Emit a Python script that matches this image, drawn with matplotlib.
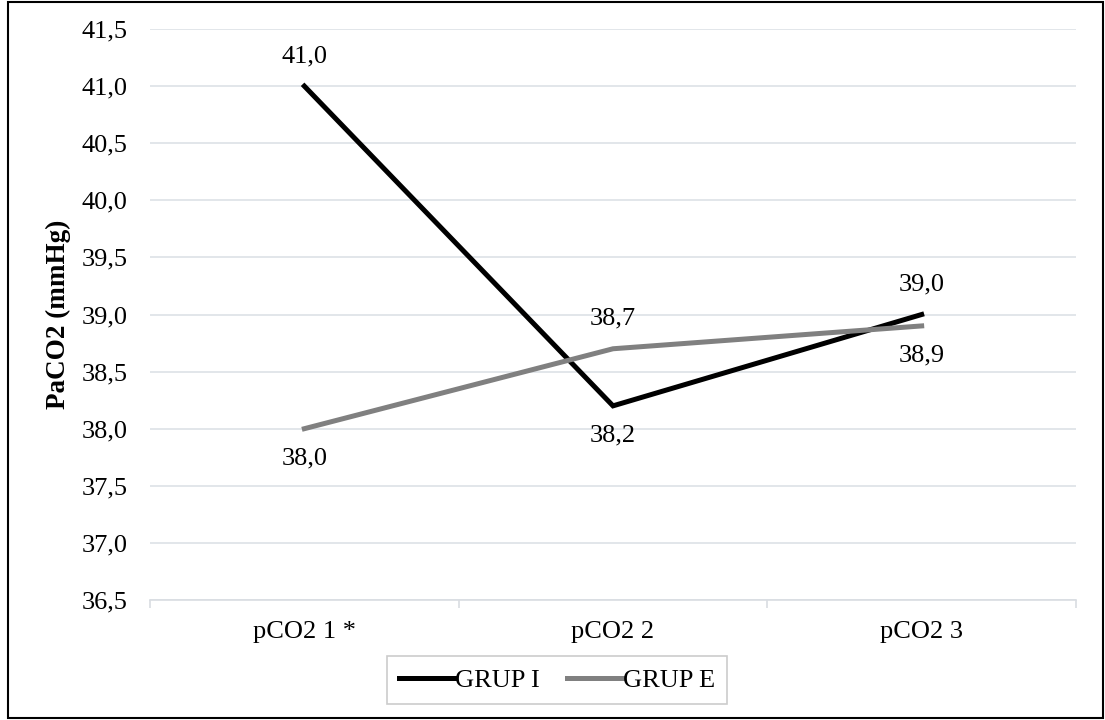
import numpy as np
import matplotlib
matplotlib.use("Agg")
import matplotlib.pyplot as plt
from matplotlib.ticker import FuncFormatter, FixedLocator
from matplotlib.patches import Rectangle

categories = ["pCO2 1 *", "pCO2 2", "pCO2 3"]
grup_i = [41.0, 38.2, 39.0]
grup_e = [38.0, 38.7, 38.9]
# label above (+1) or below (-1) the point
pos_i = [1, -1, 1]
pos_e = [-1, 1, -1]

plt.rcParams["font.family"] = ["Liberation Serif", "DejaVu Serif"]
plt.rcParams["font.size"] = 19

fig = plt.figure(figsize=(11.05, 7.2), dpi=100)
ax = fig.add_axes([150 / 1105, 120 / 720, 926 / 1105, 571 / 720])

x = np.arange(len(categories))
ax.plot(x, grup_i, color="black", lw=3.6, label="GRUP I", solid_joinstyle="miter", zorder=3)
ax.plot(x, grup_e, color="#808080", lw=3.6, label="GRUP E", solid_joinstyle="miter", zorder=3)

def comma(v):
    return f"{v:.1f}".replace(".", ",")

for vals, pos in [(grup_i, pos_i), (grup_e, pos_e)]:
    for xi, v, p in zip(x, vals, pos):
        ax.annotate(comma(v), (xi, v), xytext=(0, 21.5 * p), textcoords="offset points",
                    ha="center", va="center", fontsize=19)

ax.set_xlim(-0.5, 2.5)
ax.set_ylim(36.5, 41.5)
ax.set_yticks(np.arange(36.5, 41.51, 0.5))
ax.yaxis.set_major_formatter(FuncFormatter(lambda v, _: comma(v)))
ax.set_xticks(x)
ax.set_xticklabels(categories)
ax.xaxis.set_minor_locator(FixedLocator([-0.5, 0.5, 1.5, 2.5]))
ax.tick_params(axis="x", which="major", length=0, pad=15)
ax.tick_params(axis="x", which="minor", length=6, color="#d9dde2", width=1.2)
ax.tick_params(axis="y", length=0, pad=16)

ax.grid(axis="y", color="#dde1e6", lw=1.2)
ax.set_axisbelow(True)
for s in ["top", "right", "left"]:
    ax.spines[s].set_visible(False)
ax.spines["bottom"].set_color("#d9dde2")
ax.spines["bottom"].set_linewidth(1.2)

ax.set_ylabel("PaCO2 (mmHg)", fontweight="bold", fontsize=19.5, labelpad=8)

leg = fig.legend(loc="center", bbox_to_anchor=(557 / 1105, 1 - 680 / 720), ncol=2,
                 frameon=True, fancybox=False, edgecolor="#bfbfbf", handlelength=2.1,
                 handletextpad=0.05, columnspacing=1.0, borderpad=0.45, fontsize=19)
leg.get_frame().set_linewidth(1.2)

fig.patches.append(Rectangle((8 / 1105, 2 / 720), 1095 / 1105, 716 / 720,
                             transform=fig.transFigure, fill=False, edgecolor="black", lw=1.5))

fig.savefig("out.png", dpi=100)
